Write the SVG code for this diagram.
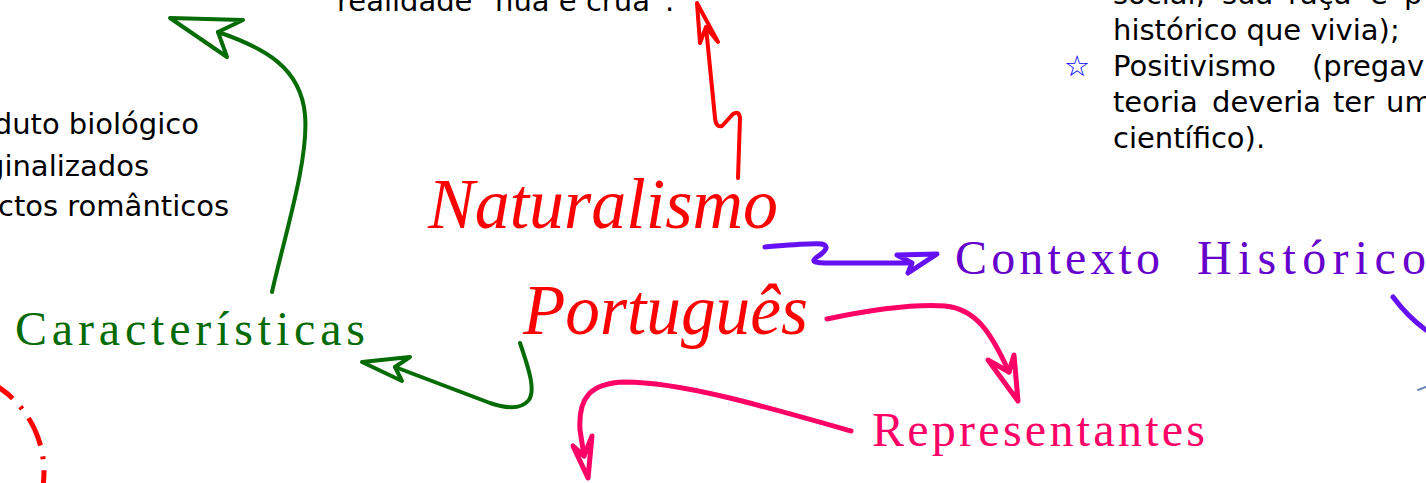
<svg xmlns="http://www.w3.org/2000/svg" width="1426" height="483" viewBox="0 0 1426 483">
<style>
.body{font-family:"DejaVu Sans","Liberation Sans",sans-serif;font-size:29px;fill:#000}
.script{font-family:"Liberation Serif","DejaVu Serif",serif;font-style:italic;font-size:72px;fill:#ff0000}
.cal{font-family:"Liberation Serif","DejaVu Serif",serif;font-size:48px}
.c{fill:none;stroke-linecap:round;stroke-linejoin:round}
.g{stroke:#056b05;stroke-width:4}
.r{stroke:#ff0000;stroke-width:4}
.p{stroke:#6610f5;stroke-width:5}
.k{stroke:#ff0066;stroke-width:5}
</style>
<rect width="1426" height="483" fill="#fff"/>
<g id="connectors">
  <path class="c g" d="M272,292 C284,238 309,160 305,115 C301,68 265,48 218,32"/>
  <path class="c g" d="M218,32 L227,57 L170,18 L243,20 Z"/>
  <path class="c g" d="M520,343 C530,372 536,392 528,401 C520,410 505,408 490,403 L395,367"/>
  <path class="c g" d="M395,367 L402,381 L362,362 L410,357 Z"/>
  <path class="c r" d="M738,178 L740,118 Q739,110 733,114 L722,126 Q716,128 715,118 L706,27"/>
  <path class="c r" d="M706,27 L700,43 L697,3 L718,42 Z"/>
  <path class="c p" d="M765,247 C790,245 810,243 822,244 C830,246 825,252 817,257 C810,262 815,263 830,263 L910,263"/>
  <path class="c p" d="M912,263 L897,255 L937,254 L908,273 Z"/>
  <path class="c k" d="M827,319 C870,310 915,304 945,306 C975,309 990,330 1009,372"/>
  <path class="c k" d="M1009,372 L988,360 L1018,401 L1014,355 Z"/>
  <path class="c k" d="M851,431 C760,405 680,382 625,382 C590,383 578,398 580,430 L584,456"/>
  <path class="c k" d="M584,456 L573,446 L588,478 L592,436 Z"/>
  <path class="c p" d="M1393,297 Q1408,317 1426,330"/>
  <path class="c" stroke="#6b86b8" stroke-width="2" d="M1418,390 L1426,387"/>
  <path fill="none" stroke="#ff0000" stroke-width="5" stroke-dasharray="30 11 3 11" d="M-11.5,381.2 A102,102 0 0 1 37.8,506.9"/>
</g>
<g id="node-naturalismo">
  <text class="script" x="428" y="228" textLength="350" lengthAdjust="spacingAndGlyphs">Naturalismo</text>
  <text class="script" x="523" y="334" textLength="285" lengthAdjust="spacingAndGlyphs">Português</text>
</g>
<g id="node-caracteristicas">
  <text class="cal" x="15" y="345" fill="#056b05" textLength="350" lengthAdjust="spacing">Características</text>
</g>
<g id="node-contexto">
  <text class="cal" y="274" fill="#6600cc" font-size="44"><tspan x="955" textLength="205" lengthAdjust="spacing">Contexto</tspan><tspan x="1197" textLength="229" lengthAdjust="spacing">Histórico</tspan></text>
</g>
<g id="node-representantes">
  <text class="cal" x="872" y="446" fill="#ff0066" textLength="333" lengthAdjust="spacing">Representantes</text>
</g>
<g id="text-realidade">
  <text class="body" x="337" y="11">realidade “nua e crua”.</text>
</g>
<g id="text-left">
  <text class="body" x="199" y="134" text-anchor="end">duto biológico</text>
  <text class="body" x="149" y="176" text-anchor="end">ginalizados</text>
  <text class="body" x="229" y="216" text-anchor="end">ctos românticos</text>
</g>
<g id="text-right">
  <text class="body" y="4"><tspan x="1113">social,</tspan><tspan x="1222">sua</tspan><tspan x="1288">raça</tspan><tspan x="1370">e</tspan><tspan x="1404">p</tspan></text>
  <text class="body" x="1113" y="40">histórico que vivia);</text>
  <text x="1064" y="76" font-family="DejaVu Sans" font-size="29" fill="#0000ff">☆</text>
  <text class="body" y="76"><tspan x="1113">Positivismo</tspan><tspan x="1312">(pregav</tspan></text>
  <text class="body" y="112"><tspan x="1113">teoria</tspan><tspan x="1212">deveria</tspan><tspan x="1333">ter</tspan><tspan x="1386">um</tspan></text>
  <text class="body" x="1113" y="148">científico).</text>
</g>
</svg>
